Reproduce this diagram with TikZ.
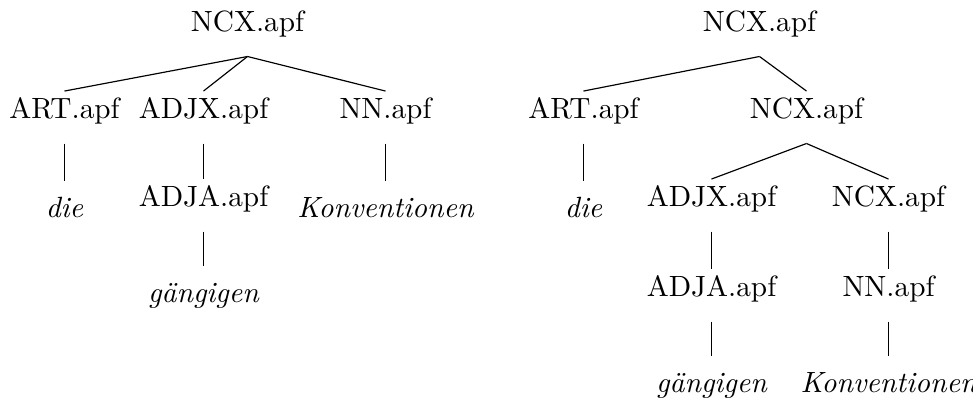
\documentclass[tikz,border=0pt]{standalone}
\begin{document}
\begin{tikzpicture}[x=0.3413pt,y=-0.3413pt,
  cat/.style={anchor=base,inner xsep=0pt,inner ysep=2pt,text height=7pt,text depth=6.5pt},
  word/.style={anchor=base,inner xsep=0pt,inner ysep=2pt,text height=10pt,text depth=6.5pt,font=\itshape},
  branch/.style={line width=0.4pt}]
\useasboundingbox (0,0) rectangle (973,400);

% flat analysis
\node[cat]  (n1) at (247.5,31)  {NCX.apf};
\node[cat]  (a1) at (64.5,118)  {ART.apf};
\node[cat]  (b1) at (203.5,118) {ADJX.apf};
\node[cat]  (c1) at (385.5,118) {NN.apf};
\node[word] (d1) at (64.5,217)  {die};
\node[cat]  (e1) at (203.5,206) {ADJA.apf};
\node[word] (f1) at (385.5,217) {Konventionen};
\node[word] (g1) at (203.5,302) {g\"angigen};

\draw[branch] (n1.south) -- (a1.north);
\draw[branch] (n1.south) -- (b1.north);
\draw[branch] (n1.south) -- (c1.north);
\draw[branch] (a1.south) -- (d1.north);
\draw[branch] (b1.south) -- (e1.north);
\draw[branch] (c1.south) -- (f1.north);
\draw[branch] (e1.south) -- (g1.north);

% nested analysis
\node[cat]  (r0) at (759.5,31)  {NCX.apf};
\node[cat]  (ra) at (583.5,118) {ART.apf};
\node[cat]  (rb) at (806.5,118) {NCX.apf};
\node[word] (rd) at (583.5,217) {die};
\node[cat]  (re) at (711.5,206) {ADJX.apf};
\node[cat]  (rf) at (888.5,206) {NCX.apf};
\node[cat]  (rg) at (711.5,296) {ADJA.apf};
\node[cat]  (rh) at (888.5,296) {NN.apf};
\node[word] (ri) at (711.5,392) {g\"angigen};
\node[word] (rj) at (888.5,392) {Konventionen};

\draw[branch] (r0.south) -- (ra.north);
\draw[branch] (r0.south) -- (rb.north);
\draw[branch] (ra.south) -- (rd.north);
\draw[branch] (rb.south) -- (re.north);
\draw[branch] (rb.south) -- (rf.north);
\draw[branch] (re.south) -- (rg.north);
\draw[branch] (rf.south) -- (rh.north);
\draw[branch] (rg.south) -- (ri.north);
\draw[branch] (rh.south) -- (rj.north);
\end{tikzpicture}
\end{document}
